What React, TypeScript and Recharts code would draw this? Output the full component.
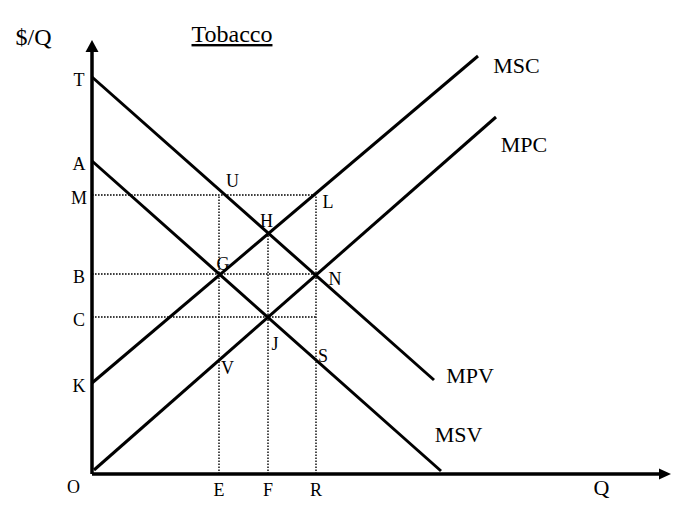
import React from "react";
import { ComposedChart, Line, Scatter, XAxis, YAxis } from "recharts";

// price levels on the $/Q axis (chart units)
const priceTicks = ["T", "A", "M", "B", "C", "K"];
const priceValues = [39.7, 31.3, 27.9, 20.0, 15.7, 9.1];

// quantity levels on the Q axis
const qtyTicks = ["E", "F", "R"];
const qtyValues = [12.7, 17.6, 22.4];

// the four curves, end points only
const mpv = [{ x: 0, y: 39.7 }, { x: 34.2, y: 9.4 }];
const msv = [{ x: 0, y: 31.3 }, { x: 34.9, y: 0.3 }];
const msc = [{ x: 0, y: 9.1 }, { x: 38.6, y: 41.8 }];
const mpc = [{ x: 0.2, y: 0.4 }, { x: 40.4, y: 35.7 }];

// guide lines (dotted)
const guides = [
  [{ x: 0, y: 27.9 }, { x: 22.4, y: 27.9 }],
  [{ x: 0, y: 20.0 }, { x: 22.4, y: 20.0 }],
  [{ x: 0, y: 15.7 }, { x: 22.4, y: 15.7 }],
  [{ x: 12.7, y: 0 }, { x: 12.7, y: 27.9 }],
  [{ x: 17.6, y: 0 }, { x: 17.6, y: 24.1 }],
  [{ x: 22.4, y: 0 }, { x: 22.4, y: 27.9 }],
];

// axes
const yAxisLine = [{ x: 0, y: 0 }, { x: 0, y: 42.3 }];
const xAxisLine = [{ x: 0, y: 0 }, { x: 56.8, y: 0 }];
const arrowTips = [
  { x: 0, y: 43.4, dir: "up" },
  { x: 57.9, y: 0, dir: "right" },
];

// point labels
const pointLabels = [
  { text: "U", x: 14.05, y: 28.7 },
  { text: "L", x: 23.6, y: 26.6 },
  { text: "H", x: 17.45, y: 24.7 },
  { text: "G", x: 13.1, y: 20.4 },
  { text: "N", x: 24.3, y: 18.9 },
  { text: "J", x: 18.3, y: 12.4 },
  { text: "S", x: 23.1, y: 11.2 },
  { text: "V", x: 13.55, y: 10.0 },
  { text: "O", x: -1.85, y: -1.9 },
];

const curveLabels = [
  { text: "MSC", x: 42.45, y: 40.1 },
  { text: "MPC", x: 43.2, y: 32.2 },
  { text: "MPV", x: 37.8, y: 9.1 },
  { text: "MSV", x: 36.65, y: 3.2 },
  { text: "Q", x: 50.95, y: -2.1 },
];

const titleLabels = [
  { text: "$/Q", x: -5.85, y: 42.9, underline: false },
  { text: "Tobacco", x: 14.0, y: 43.2, underline: true },
];

const FONT = "'Liberation Serif', 'Times New Roman', serif";

const yTickData = priceTicks.map((t, i) => ({ text: t, x: -1.3, y: priceValues[i] }));
const xTickData = qtyTicks.map((t, i) => ({ text: t, x: qtyValues[i], y: 0 }));

function makeText(size: number, dy: number) {
  return (props: any) => {
    const { cx, cy, payload } = props;
    return (
      <text
        x={cx}
        y={cy + dy}
        textAnchor="middle"
        fontFamily={FONT}
        fontSize={size}
        fill="#000"
        textDecoration={payload.underline ? "underline" : undefined}
      >
        {payload.text}
      </text>
    );
  };
}

function Arrow(props: any) {
  const { cx, cy, payload } = props;
  const pts =
    payload.dir === "up"
      ? `${cx},${cy} ${cx - 6.5},${cy + 12} ${cx + 6.5},${cy + 12}`
      : `${cx},${cy} ${cx - 12},${cy - 5.5} ${cx - 12},${cy + 5.5}`;
  return <polygon points={pts} fill="#000" />;
}

const solid = (data: any[], key: string, w: number) => (
  <Line
    key={key}
    data={data}
    dataKey="y"
    type="linear"
    stroke="#000"
    strokeWidth={w}
    dot={false}
    activeDot={false}
    legendType="none"
    isAnimationActive={false}
  />
);

export default function App() {
  return (
    <div style={{ position: "absolute", left: 0, top: 0, background: "#fff" }}>
      <ComposedChart width={696} height={519} margin={{ top: 0, right: 0, bottom: 0, left: 0 }}>
        <XAxis type="number" dataKey="x" domain={[-9.2, 60.4]} allowDataOverflow hide />
        <YAxis type="number" dataKey="y" domain={[-4.5, 47.4]} allowDataOverflow hide />
        {guides.map((g, i) => (
          <Line
            key={"g" + i}
            data={g}
            dataKey="y"
            type="linear"
            stroke="#000"
            strokeWidth={1.4}
            strokeDasharray="1.6 1.4"
            dot={false}
            activeDot={false}
            legendType="none"
            isAnimationActive={false}
          />
        ))}
        {solid(mpv, "mpv", 3)}
        {solid(msv, "msv", 3)}
        {solid(msc, "msc", 3)}
        {solid(mpc, "mpc", 3)}
        {solid(yAxisLine, "yax", 3.5)}
        {solid(xAxisLine, "xax", 3.5)}
        <Scatter data={arrowTips} shape={Arrow} isAnimationActive={false} legendType="none" />
        <Scatter data={yTickData} shape={makeText(18, 9)} isAnimationActive={false} legendType="none" />
        <Scatter data={xTickData} shape={makeText(18, 22)} isAnimationActive={false} legendType="none" />
        <Scatter data={pointLabels} shape={makeText(18, 0)} isAnimationActive={false} legendType="none" />
        <Scatter data={curveLabels} shape={makeText(22, 0)} isAnimationActive={false} legendType="none" />
        <Scatter data={titleLabels} shape={makeText(24, 0)} isAnimationActive={false} legendType="none" />
      </ComposedChart>
    </div>
  );
}
